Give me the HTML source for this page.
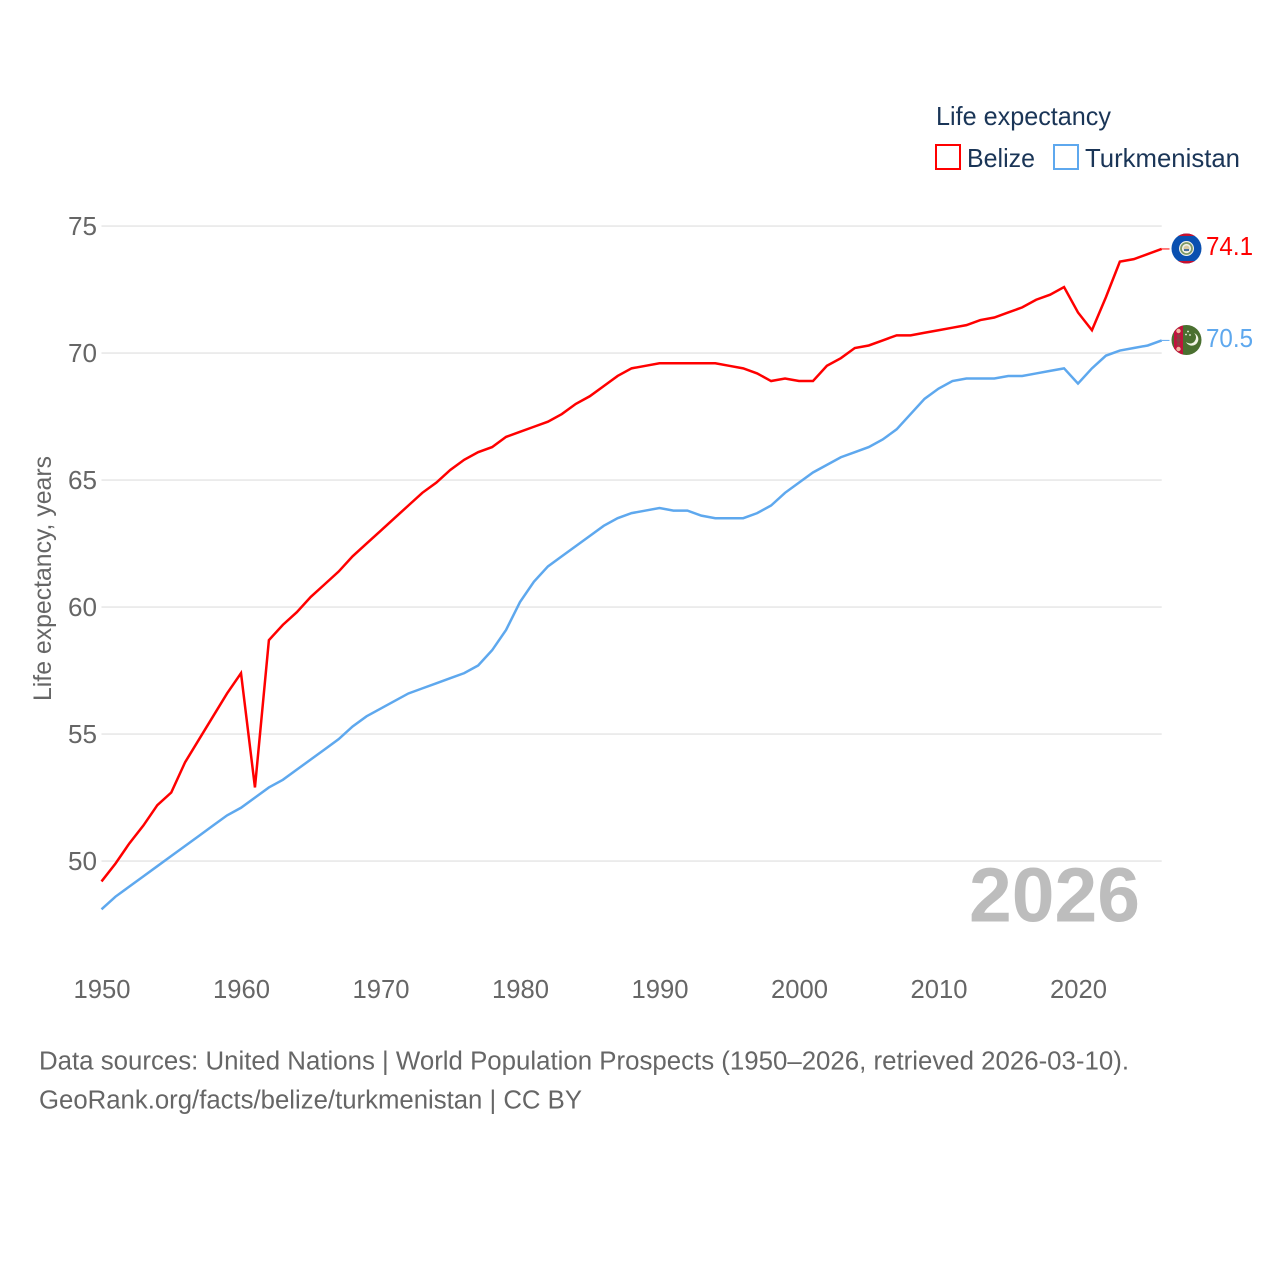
<!DOCTYPE html>
<html lang="en">
<head>
<meta charset="utf-8">
<title>Life expectancy: Belize and Turkmenistan</title>
<style>
html,body{margin:0;padding:0;background:#fff;width:1280px;height:1280px;overflow:hidden}
svg{display:block;font-family:"Liberation Sans",sans-serif}
</style>
</head>
<body>
<svg id="chart" xmlns="http://www.w3.org/2000/svg" width="1280" height="1280" viewBox="0 0 1280 1280">
  <defs>
    <clipPath id="flag-clip-a"><circle cx="1186.5" cy="248.5" r="15"/></clipPath>
    <clipPath id="flag-clip-b"><circle cx="1186.5" cy="340" r="15"/></clipPath>
  </defs>
  <rect width="1280" height="1280" fill="#ffffff"/>
  <g id="grid"></g>
  <g id="y-ticks"></g>
  <g id="x-ticks"></g>
  <text transform="translate(51 701) rotate(-90)" font-size="25" fill="#666666" textLength="245" lengthAdjust="spacingAndGlyphs">Life expectancy, years</text>
  <text x="969" y="921.500" font-size="77" font-weight="bold" fill="#bdbdbd" textLength="171" lengthAdjust="spacingAndGlyphs">2026</text>
  <g id="series"></g>

  <g>
    <text x="936" y="125" font-size="26" fill="#1a3557" textLength="175" lengthAdjust="spacingAndGlyphs">Life expectancy</text>
    <rect x="936" y="145" width="24" height="24" fill="none" stroke="#ff0000" stroke-width="2"/>
    <text x="967" y="167" font-size="26" fill="#1a3557" textLength="68" lengthAdjust="spacingAndGlyphs">Belize</text>
    <rect x="1054" y="145" width="24" height="24" fill="none" stroke="#5ea8ee" stroke-width="2"/>
    <text x="1085" y="167" font-size="26" fill="#1a3557" textLength="155" lengthAdjust="spacingAndGlyphs">Turkmenistan</text>
  </g>

  <g clip-path="url(#flag-clip-a)">
    <rect x="1171" y="233" width="31" height="31" fill="#0a50b0"/>
    <rect x="1171" y="233" width="31" height="3" fill="#c8102e"/>
    <rect x="1171" y="261" width="31" height="3" fill="#c8102e"/>
    <circle cx="1186.5" cy="248.5" r="7.5" fill="#f2f2ea"/>
    <circle cx="1186.5" cy="248.5" r="5.5" fill="none" stroke="#7f9a66" stroke-width="1.8"/>
    <circle cx="1186.5" cy="248.5" r="3" fill="#d9c9a0"/>
    <rect x="1184" y="249" width="5" height="2" fill="#4a6f9a"/>
  </g>
  <g clip-path="url(#flag-clip-b)">
    <rect x="1171" y="324" width="31" height="32" fill="#4a7030"/>
    <rect x="1174" y="324" width="9" height="32" fill="#c0143c"/>
    <circle cx="1178.500" cy="331" r="2.200" fill="#efb9a0"/>
    <circle cx="1178.500" cy="336" r="1.800" fill="#8a4040"/>
    <circle cx="1178.500" cy="340" r="2.200" fill="#8a4040"/>
    <circle cx="1178.500" cy="344" r="1.800" fill="#8a4040"/>
    <circle cx="1178.500" cy="349" r="2.200" fill="#efb9a0"/>
    <path d="M1194 333 A6.5 6.5 0 1 1 1186 342 A5.5 5.5 0 0 0 1194 333 Z" fill="#f1f4e6"/>
    <circle cx="1188" cy="331.500" r="0.900" fill="#f1f4e6"/>
    <circle cx="1186" cy="334.500" r="0.900" fill="#f1f4e6"/>
    <circle cx="1190" cy="335" r="0.900" fill="#f1f4e6"/>
  </g>
  <text x="1206" y="255" font-size="26" fill="#ff0000" textLength="47" lengthAdjust="spacingAndGlyphs">74.1</text>
  <text x="1206" y="347" font-size="26" fill="#5ea8ee" textLength="47" lengthAdjust="spacingAndGlyphs">70.5</text>

  <text x="39" y="1069.500" font-size="25.500" fill="#666666" textLength="1090" lengthAdjust="spacingAndGlyphs">Data sources: United Nations | World Population Prospects (1950–2026, retrieved 2026-03-10).</text>
  <text x="39" y="1108.500" font-size="25.500" fill="#666666" textLength="543" lengthAdjust="spacingAndGlyphs">GeoRank.org/facts/belize/turkmenistan | CC BY</text>
</svg>
<script>
const firstYear = 1950;
const lastYear = 2026;
const yTickValues = [50, 55, 60, 65, 70, 75];
const xTickValues = [1950, 1960, 1970, 1980, 1990, 2000, 2010, 2020];
const belizeValues = [
  49.2, 49.9, 50.7, 51.4, 52.2, 52.7, 53.9, 54.8, 55.7, 56.6,
  57.4, 52.9, 58.7, 59.3, 59.8, 60.4, 60.9, 61.4, 62.0, 62.5,
  63.0, 63.5, 64.0, 64.5, 64.9, 65.4, 65.8, 66.1, 66.3, 66.7,
  66.9, 67.1, 67.3, 67.6, 68.0, 68.3, 68.7, 69.1, 69.4, 69.5,
  69.6, 69.6, 69.6, 69.6, 69.6, 69.5, 69.4, 69.2, 68.9, 69.0,
  68.9, 68.9, 69.5, 69.8, 70.2, 70.3, 70.5, 70.7, 70.7, 70.8,
  70.9, 71.0, 71.1, 71.3, 71.4, 71.6, 71.8, 72.1, 72.3, 72.6,
  71.6, 70.9, 72.2, 73.6, 73.7, 73.9, 74.1
];
const turkmenistanValues = [
  48.1, 48.6, 49.0, 49.4, 49.8, 50.2, 50.6, 51.0, 51.4, 51.8,
  52.1, 52.5, 52.9, 53.2, 53.6, 54.0, 54.4, 54.8, 55.3, 55.7,
  56.0, 56.3, 56.6, 56.8, 57.0, 57.2, 57.4, 57.7, 58.3, 59.1,
  60.2, 61.0, 61.6, 62.0, 62.4, 62.8, 63.2, 63.5, 63.7, 63.8,
  63.9, 63.8, 63.8, 63.6, 63.5, 63.5, 63.5, 63.7, 64.0, 64.5,
  64.9, 65.3, 65.6, 65.9, 66.1, 66.3, 66.6, 67.0, 67.6, 68.2,
  68.6, 68.9, 69.0, 69.0, 69.0, 69.1, 69.1, 69.2, 69.3, 69.4,
  68.8, 69.4, 69.9, 70.1, 70.2, 70.3, 70.5
];

const NS = 'http://www.w3.org/2000/svg';
const xLeft = 101.5, xRight = 1161.7, yAt50 = 861.1, yAt75 = 226.1;
function xScale(year) { return xLeft + (year - firstYear) * (xRight - xLeft) / (lastYear - firstYear); }
function yScale(v) { return yAt50 + (v - 50) * (yAt75 - yAt50) / 25; }

const gridGroup = document.getElementById('grid');
const yGroup = document.getElementById('y-ticks');
const xGroup = document.getElementById('x-ticks');
const seriesGroup = document.getElementById('series');

yTickValues.forEach(function (v) {
  const line = document.createElementNS(NS, 'line');
  
  
  line.setAttribute('x1', xLeft);
  line.setAttribute('x2', xRight);
  line.setAttribute('y1', yScale(v));
  line.setAttribute('y2', yScale(v));
  line.setAttribute('stroke', '#e8e8e8');
  line.setAttribute('stroke-width', '1.6');
  gridGroup.appendChild(line);

  const label = document.createElementNS(NS, 'text');
  
  
  label.setAttribute('x', 68);
  label.setAttribute('y', yScale(v) + 8.9);
  label.setAttribute('font-size', '26');
  label.setAttribute('fill', '#666666');
  label.setAttribute('textLength', '29');
  label.setAttribute('lengthAdjust', 'spacingAndGlyphs');
  label.textContent = String(v);
  yGroup.appendChild(label);
});

xTickValues.forEach(function (year) {
  const label = document.createElementNS(NS, 'text');
  
  
  label.setAttribute('x', xScale(year) - 28);
  label.setAttribute('y', 998);
  label.setAttribute('font-size', '26');
  label.setAttribute('fill', '#666666');
  label.setAttribute('textLength', '57');
  label.setAttribute('lengthAdjust', 'spacingAndGlyphs');
  label.textContent = String(year);
  xGroup.appendChild(label);
});

function pathFor(values) {
  return values.map(function (v, i) {
    return (i ? 'L' : 'M') + xScale(firstYear + i).toFixed(2) + ' ' + yScale(v).toFixed(2);
  }).join(' ');
}

const belizeLine = document.createElementNS(NS, 'path');


belizeLine.setAttribute('d', pathFor(belizeValues));
belizeLine.setAttribute('fill', 'none');
belizeLine.setAttribute('stroke', '#ff0000');
belizeLine.setAttribute('stroke-width', '2.5');
belizeLine.setAttribute('stroke-linejoin', 'miter');
seriesGroup.appendChild(belizeLine);

const turkmenistanLine = document.createElementNS(NS, 'path');


turkmenistanLine.setAttribute('d', pathFor(turkmenistanValues));
turkmenistanLine.setAttribute('fill', 'none');
turkmenistanLine.setAttribute('stroke', '#5ea8ee');
turkmenistanLine.setAttribute('stroke-width', '2.5');
seriesGroup.appendChild(turkmenistanLine);

const belizeLead = document.createElementNS(NS, 'line');


belizeLead.setAttribute('x1', xRight);
belizeLead.setAttribute('x2', 1169.5);
belizeLead.setAttribute('y1', yScale(belizeValues[belizeValues.length - 1]));
belizeLead.setAttribute('y2', yScale(belizeValues[belizeValues.length - 1]));
belizeLead.setAttribute('stroke', '#ff0000');
belizeLead.setAttribute('stroke-width', '1');
seriesGroup.appendChild(belizeLead);

const turkmenistanLead = document.createElementNS(NS, 'line');


turkmenistanLead.setAttribute('x1', xRight);
turkmenistanLead.setAttribute('x2', 1169.5);
turkmenistanLead.setAttribute('y1', yScale(turkmenistanValues[turkmenistanValues.length - 1]));
turkmenistanLead.setAttribute('y2', yScale(turkmenistanValues[turkmenistanValues.length - 1]));
turkmenistanLead.setAttribute('stroke', '#5ea8ee');
turkmenistanLead.setAttribute('stroke-width', '1');
seriesGroup.appendChild(turkmenistanLead);
</script>
</body>
</html>
